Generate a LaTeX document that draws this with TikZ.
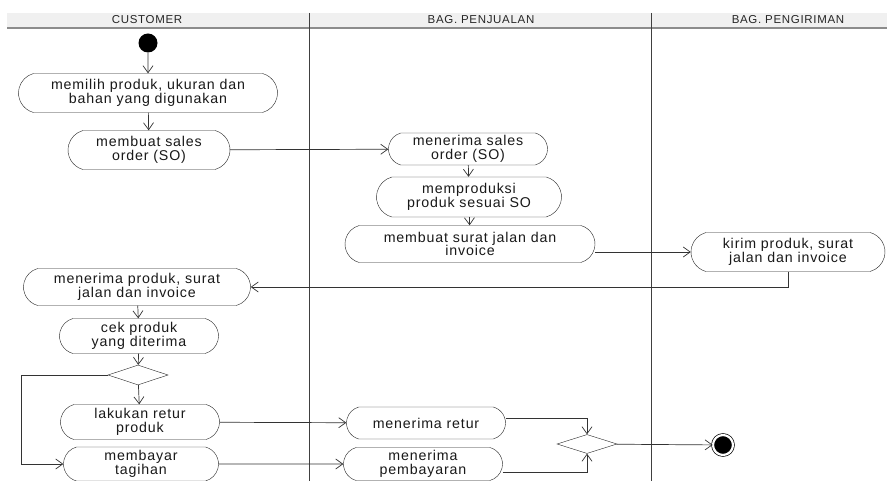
\documentclass[tikz,border=0pt]{standalone}
\usepackage{fontspec}
\setmainfont{Liberation Sans}[LetterSpace=6]
\usetikzlibrary{shapes.misc, shapes.geometric, arrows.meta}

\begin{document}
\begin{tikzpicture}[x=1pt, y=-1pt,
  act/.style={draw=black!85, fill=white, rounded rectangle,
    rounded rectangle arc length=150, inner sep=0, align=center,
    text=black!90, font=\fontsize{14.2}{13.8}\selectfont},
  branch/.style={draw=black!85, fill=white, diamond, aspect=3,
    inner sep=0, minimum width=60, minimum height=20},
  flow/.style={draw=black!80, line width=0.7pt,
    -{Straight Barb[length=7pt, width=10pt]}},
  lanehead/.style={inner sep=0, text=black!85,
    font=\fontsize{11.5}{12}\selectfont}]
  \useasboundingbox (0,0) rectangle (887,481);

  % swimlanes
  \fill[black!6] (7,13) rectangle (887,27);
  \draw[black!45, line width=1.6] (7,28) -- (887,28);
  \draw[black!75, line width=0.8] (309,13) -- (309,481);
  \draw[black!75, line width=0.8] (651,13) -- (651,481);

  \node[lanehead] (hcust) at (147,20) {CUSTOMER};
  \node[lanehead] (hjual) at (481,20) {BAG. PENJUALAN};
  \node[lanehead] (hkirim) at (788,20) {BAG. PENGIRIMAN};

  % activities
  \node[circle, fill=black, minimum size=19, inner sep=0]
    (start) at (148,43) {};

  \node[act, minimum width=259, minimum height=39]
    (pilih) at (148,93) {memilih produk, ukuran dan\\bahan yang digunakan};

  \node[act, minimum width=162, minimum height=39]
    (so) at (149,150) {membuat sales\\order (SO)};

  \node[act, minimum width=159, minimum height=32]
    (terimaso) at (468,149) {menerima sales\\order (SO)};

  \node[act, minimum width=185, minimum height=40]
    (produksi) at (469,197) {memproduksi\\produk sesuai SO};

  \node[act, minimum width=250, minimum height=37]
    (surat) at (470,244) {membuat surat jalan dan\\invoice};

  \node[act, minimum width=194, minimum height=39]
    (kirim) at (788,252) {kirim produk, surat\\jalan dan invoice};

  \node[act, minimum width=227, minimum height=37]
    (terimaprod) at (137,287) {menerima produk, surat\\jalan dan invoice};

  \node[act, minimum width=159, minimum height=35]
    (cek) at (139,336) {cek produk\\yang diterima};

  \node[branch] (cabang) at (138,375) {};

  \node[act, minimum width=159, minimum height=35]
    (retur) at (140,422) {lakukan retur\\produk};

  \node[act, minimum width=155, minimum height=34]
    (bayar) at (141,464) {membayar\\tagihan};

  \node[act, minimum width=159, minimum height=32]
    (terimaretur) at (426,423) {menerima retur};

  \node[act, minimum width=159, minimum height=33]
    (terimabayar) at (423,464) {menerima\\pembayaran};

  \node[branch, minimum height=19] (gabung) at (587,444) {};

  \node[circle, fill=black, draw=black, minimum size=20, inner sep=0,
    line width=0.7pt, double, double distance=2.2pt]
    (finish) at (723,445) {};

  \coordinate (kiri) at (21,375);

  % connectors
  \draw[flow] (start) -- (pilih);
  \draw[flow] (pilih) -- (so);
  \draw[flow] (so) -- (terimaso);
  \draw[flow] (terimaso) -- (produksi);
  \draw[flow] (produksi) -- (surat);
  \draw[flow] (surat.east |- kirim.west) -- (kirim.west);
  \draw[flow] (kirim.south) |- (terimaprod.east);
  \draw[flow] (terimaprod) -- (cek);
  \draw[flow] (cek) -- (cabang);
  \draw[flow] (cabang) -- (retur);
  \draw[flow] (cabang.west) -- (kiri) |- (bayar.west);
  \draw[flow] (retur) -- (terimaretur);
  \draw[flow] (bayar) -- (terimabayar);
  \draw[flow] ([yshift=5pt]terimaretur.east) -| (gabung.north);
  \draw[flow] ([yshift=-8pt]terimabayar.east) -| (gabung.south);
  \draw[flow] (gabung) -- (finish);
\end{tikzpicture}
\end{document}
